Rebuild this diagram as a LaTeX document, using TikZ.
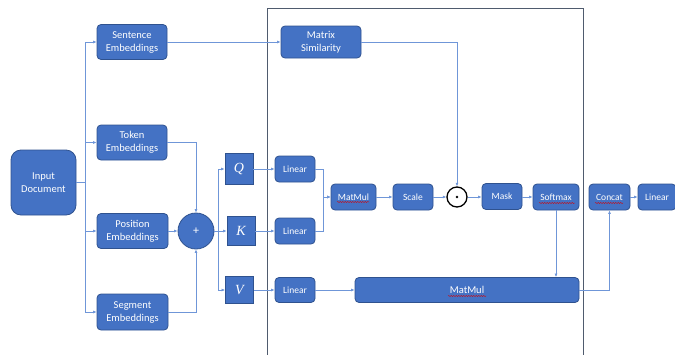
\documentclass[tikz,border=0pt]{standalone}
\usepackage{fontspec}
\setmainfont{Carlito}
\newfontfamily\qkvfont{Liberation Serif}
\usetikzlibrary{arrows.meta,decorations.pathmorphing}
\definecolor{boxfill}{HTML}{4472C4}
\definecolor{boxline}{HTML}{2F528F}
\definecolor{connc}{HTML}{6F96D8}
\definecolor{framec}{HTML}{4F5B6E}
\begin{document}
\begin{tikzpicture}[x=1pt,y=-1pt,
  blk/.style={draw=boxline, line width=0.8pt, fill=boxfill, rounded corners=4pt,
    text=white, align=center, inner sep=0pt, font=\fontsize{10.5}{13}\selectfont},
  small/.style={blk, font=\fontsize{9.5}{11}\selectfont},
  sq/.style={draw=boxline, line width=0.8pt, fill=boxfill, text=white, inner sep=0pt,
    font=\qkvfont\itshape\fontsize{14}{14}\selectfont},
  conn/.style={draw=connc, line width=0.9pt, -{Latex[length=3.5pt,width=3pt]}},
  squig/.style={red!85!black, line width=0.4pt, decorate,
    decoration={snake, amplitude=0.5pt, segment length=2.5pt}}
]
\useasboundingbox (0,0) rectangle (675,354);

% frame
\draw[framec, line width=1pt] (267,360) -- (267,8) -- (583,8) -- (583,360);

% left column
\node[blk, rounded corners=10pt, minimum width=65pt, minimum height=65pt] (input) at (43.5,182.5) {Input\\Document};
\node[blk, minimum width=70pt, minimum height=35pt] (sent) at (132,42) {Sentence\\Embeddings};
\node[blk, minimum width=70pt, minimum height=35pt] (tok) at (132,142.5) {Token\\Embeddings};
\node[blk, minimum width=71pt, minimum height=35pt] (pos) at (132.5,231) {Position\\Embeddings};
\node[blk, minimum width=71pt, minimum height=36pt] (seg) at (132.5,312) {Segment\\Embeddings};

\node[circle, draw=boxline, line width=0.8pt, fill=boxfill, text=white, minimum size=36pt,
  inner sep=0pt, font=\fontsize{12}{12}\selectfont] (plus) at (196,231) {+};

\node[sq, minimum width=28pt, minimum height=31pt] (Q) at (239,169) {\textcolor{white}{Q}};
\node[sq, minimum width=28pt, minimum height=29pt] (K) at (241,231) {\textcolor{white}{K}};
\node[sq, minimum width=28pt, minimum height=27pt] (V) at (239.5,290) {\textcolor{white}{V}};

% inside frame
\node[blk, minimum width=80pt, minimum height=32pt] (msim) at (321,42) {Matrix\\Similarity};
\node[small, minimum width=40pt, minimum height=26pt] (linQ) at (295,169) {Linear};
\node[small, minimum width=40pt, minimum height=26pt] (linK) at (295,231) {Linear};
\node[small, minimum width=40pt, minimum height=25pt] (linV) at (295,290) {Linear};
\node[small, minimum width=45pt, minimum height=26pt] (mm1) at (353.5,197) {MatMul};
\node[small, minimum width=40pt, minimum height=26pt] (scale) at (413,197) {Scale};
\node[circle, draw=black, line width=1.3pt, minimum size=20pt, inner sep=0pt] (odot) at (457,197) {};
\fill[black] (odot.center) circle (1.3pt);
\node[small, minimum width=40pt, minimum height=26pt] (mask) at (502,196.5) {Mask};
\node[small, minimum width=46pt, minimum height=26pt] (soft) at (556,197) {Softmax};
\node[blk, minimum width=224pt, minimum height=25pt] (mm2) at (467,290) {MatMul};

% right of frame
\node[small, minimum width=41pt, minimum height=26pt] (concat) at (609.5,197) {Concat};
\node[small, minimum width=38pt, minimum height=26pt] (lin2) at (657,197) {Linear};

% spell-check squiggles
\draw[squig] (337,202) -- (369,202);
\draw[squig] (539,203) -- (575,203);
\draw[squig] (595,203) -- (623,203);
\draw[squig] (448,296) -- (486,296);

% connectors
\draw[conn] (input.east) -- ++(9,0) |- (sent.west);
\draw[conn] (input.east) -- ++(9,0) |- (tok.west);
\draw[conn] (input.east) -- ++(9,0) |- (pos.west);
\draw[conn] (input.east) -- ++(9,0) |- (seg.west);
\draw[conn] (tok.east) -| (plus.north);
\draw[conn] (seg.east) -| (plus.south);
\draw[conn] (pos.east) -- (plus.west);
\draw[conn] (plus.east) -- ++(4,0) |- (Q.west);
\draw[conn] (plus.east) -- (K.west);
\draw[conn] (plus.east) -- ++(4,0) |- (V.west);
\draw[conn] (Q.east) -- (linQ.west);
\draw[conn] (K.east) -- (linK.west);
\draw[conn] (V.east) -- (linV.west);
\draw[conn] (sent.east) -- (msim.west);
\draw[conn] (linQ.east) -- ++(8,0) |- (mm1.west);
\draw[conn] (linK.east) -- ++(8,0) |- (mm1.west);
\draw[conn] (mm1.east) -- (scale.west);
\draw[conn] (scale.east) -- (odot.west);
\draw[conn] (msim.east) -| (odot.north);
\draw[conn] (odot.east) -- (mask.west |- odot.east);
\draw[conn] (mask.east |- soft.west) -- (soft.west);
\draw[conn] (soft.south) -- (soft.south |- mm2.north);
\draw[conn] (linV.east) -- (mm2.west);
\draw[conn] (mm2.east) -| (concat.south);
\draw[conn] (concat.east) -- (lin2.west);
\end{tikzpicture}
\end{document}
